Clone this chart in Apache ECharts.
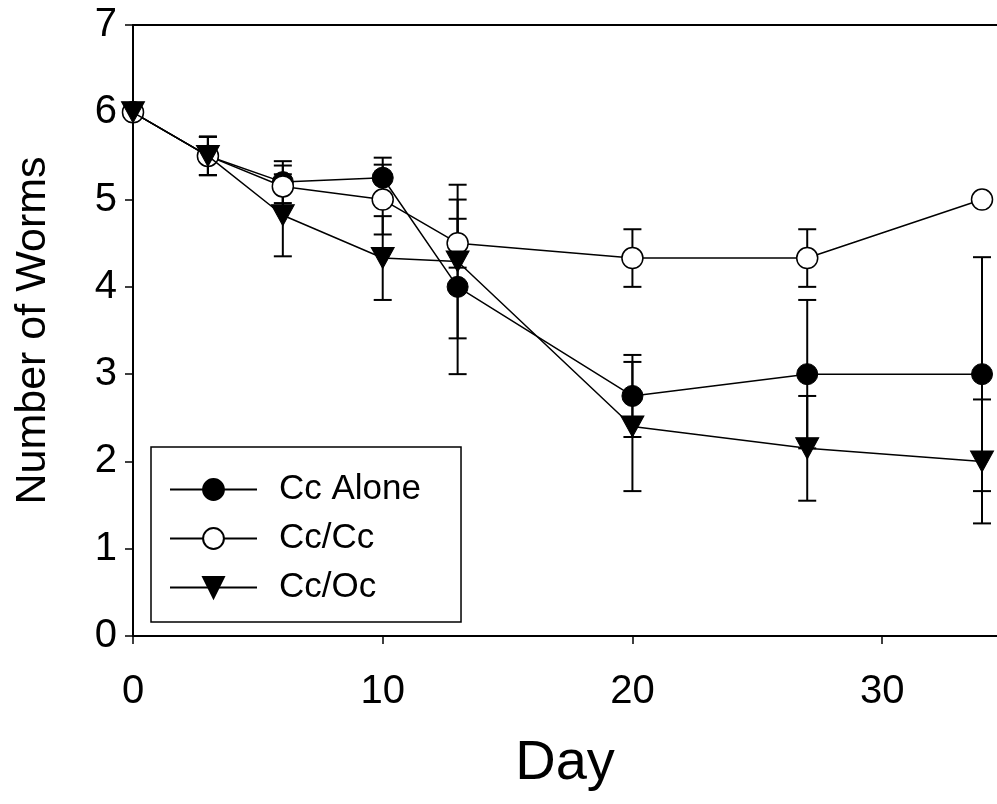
<!DOCTYPE html>
<html>
<head>
<meta charset="utf-8">
<script src="https://cdn.jsdelivr.net/npm/echarts@6/dist/echarts.min.js"></script>
<style>
  html, body { margin: 0; padding: 0; background: #fff; }
  #chart { width: 997px; height: 804px; }
</style>
</head>
<body>
<div id="chart"></div>
<script>
// days sampled
const days = [0, 3, 6, 10, 13, 20, 27, 34];
// mean number of worms per treatment
const ccAlone = [6, 5.5, 5.2, 5.25, 4.0, 2.75, 3.0, 3.0];
const ccCc = [6, 5.5, 5.15, 5.0, 4.5, 4.33, 4.33, 5.0];
const ccOc = [6, 5.5, 4.82, 4.33, 4.29, 2.4, 2.15, 2.0];
// error bar half-widths
const ccAloneErr = [0, 0.22, 0.24, 0.23, 1.0, 0.47, 0.85, 1.34];
const ccCcErr = [0, 0.22, 0.24, 0.4, 0.28, 0.33, 0.33, 0];
const ccOcErr = [0, 0.22, 0.47, 0.48, 0.88, 0.74, 0.6, 0.71];
const yTicks = [0, 1, 2, 3, 4, 5, 6, 7];
const xTicks = [0, 10, 20, 30];

const font = "'Liberation Sans', Arial, sans-serif";
const triDown = "path://M0,0L20,0L10,18Z";

function pairs(vals) {
  return days.map((d, i) => [d, vals[i]]);
}
function errData(vals, errs) {
  return days.map((d, i) => [d, vals[i] - errs[i], vals[i] + errs[i]]).filter((r, i) => errs[i] > 0);
}
function errSeries(vals, errs) {
  return {
    type: "custom",
    z: 1,
    silent: true,
    data: errData(vals, errs),
    renderItem: (params, api) => {
      const lo = api.coord([api.value(0), api.value(1)]);
      const hi = api.coord([api.value(0), api.value(2)]);
      const hw = 9;
      const style = { stroke: "#000", lineWidth: 2 };
      return {
        type: "group",
        children: [
          { type: "line", shape: { x1: hi[0], y1: hi[1], x2: lo[0], y2: lo[1] }, style },
          { type: "line", shape: { x1: hi[0] - hw, y1: hi[1], x2: hi[0] + hw, y2: hi[1] }, style },
          { type: "line", shape: { x1: lo[0] - hw, y1: lo[1], x2: lo[0] + hw, y2: lo[1] }, style },
        ],
      };
    },
  };
}

const chart = echarts.init(document.getElementById("chart"));
const option = {
  animation: false,
  backgroundColor: "#fff",
  grid: { left: 133, top: 25, right: 0, bottom: 168 },
  legend: {
    orient: "vertical",
    left: 151,
    top: 447,
    padding: [25, 40, 17, 18],
    itemWidth: 87,
    itemHeight: 26,
    itemGap: 14,
    borderColor: "#000",
    borderWidth: 1.5,
    textStyle: { fontFamily: font, fontSize: 35, color: "#000", padding: [0, 0, 0, 17] },
    data: ["Cc Alone", "Cc/Cc", "Cc/Oc"],
  },
  xAxis: [
    {
      type: "value",
      min: 0,
      max: 34.6,
      interval: 10,
      name: "Day",
      nameLocation: "middle",
      nameGap: 100,
      nameTextStyle: { fontFamily: font, fontSize: 56, color: "#000" },
      axisLine: { lineStyle: { color: "#000", width: 2 } },
      axisTick: { inside: false, length: 8, lineStyle: { color: "#000", width: 1.5 } },
      axisLabel: {
        margin: 36,
        fontFamily: font,
        fontSize: 40,
        color: "#000",
        showMaxLabel: false,
        formatter: (v) => (xTicks.includes(v) ? String(v) : ""),
      },
      splitLine: { show: false },
    },
    {
      type: "value",
      position: "top",
      min: 0,
      max: 34.6,
      axisLine: { show: true, lineStyle: { color: "#000", width: 2 } },
      axisTick: { show: false },
      axisLabel: { show: false },
      splitLine: { show: false },
    },
  ],
  yAxis: {
    type: "value",
    min: 0,
    max: 7,
    interval: 1,
    name: "Number of Worms",
    nameLocation: "middle",
    nameGap: 78,
    nameTextStyle: { fontFamily: font, fontSize: 43, color: "#000" },
    axisLine: { show: true, lineStyle: { color: "#000", width: 2 } },
    axisTick: { show: true, inside: false, length: 8, lineStyle: { color: "#000", width: 1.5 } },
    axisLabel: {
      margin: 16,
      fontFamily: font,
      fontSize: 40,
      color: "#000",
      formatter: (v) => (yTicks.includes(v) ? String(v) : ""),
    },
    splitLine: { show: false },
  },
  series: [
    errSeries(ccAlone, ccAloneErr),
    errSeries(ccCc, ccCcErr),
    errSeries(ccOc, ccOcErr),
    {
      name: "Cc Alone",
      type: "line",
      z: 3,
      data: pairs(ccAlone),
      symbol: "circle",
      symbolSize: 21,
      lineStyle: { color: "#000", width: 1.5 },
      itemStyle: { color: "#000", borderColor: "#000", borderWidth: 1 },
    },
    {
      name: "Cc/Cc",
      type: "line",
      z: 4,
      data: pairs(ccCc),
      symbol: "circle",
      symbolSize: 21,
      lineStyle: { color: "#000", width: 1.5 },
      itemStyle: { color: "#fff", borderColor: "#000", borderWidth: 1.5 },
    },
    {
      name: "Cc/Oc",
      type: "line",
      z: 5,
      data: pairs(ccOc),
      symbol: triDown,
      symbolSize: [23, 21],
      lineStyle: { color: "#000", width: 1.5 },
      itemStyle: { color: "#000", borderColor: "#000", borderWidth: 1 },
    },
  ],
};
chart.setOption(option);
</script>
</body>
</html>
